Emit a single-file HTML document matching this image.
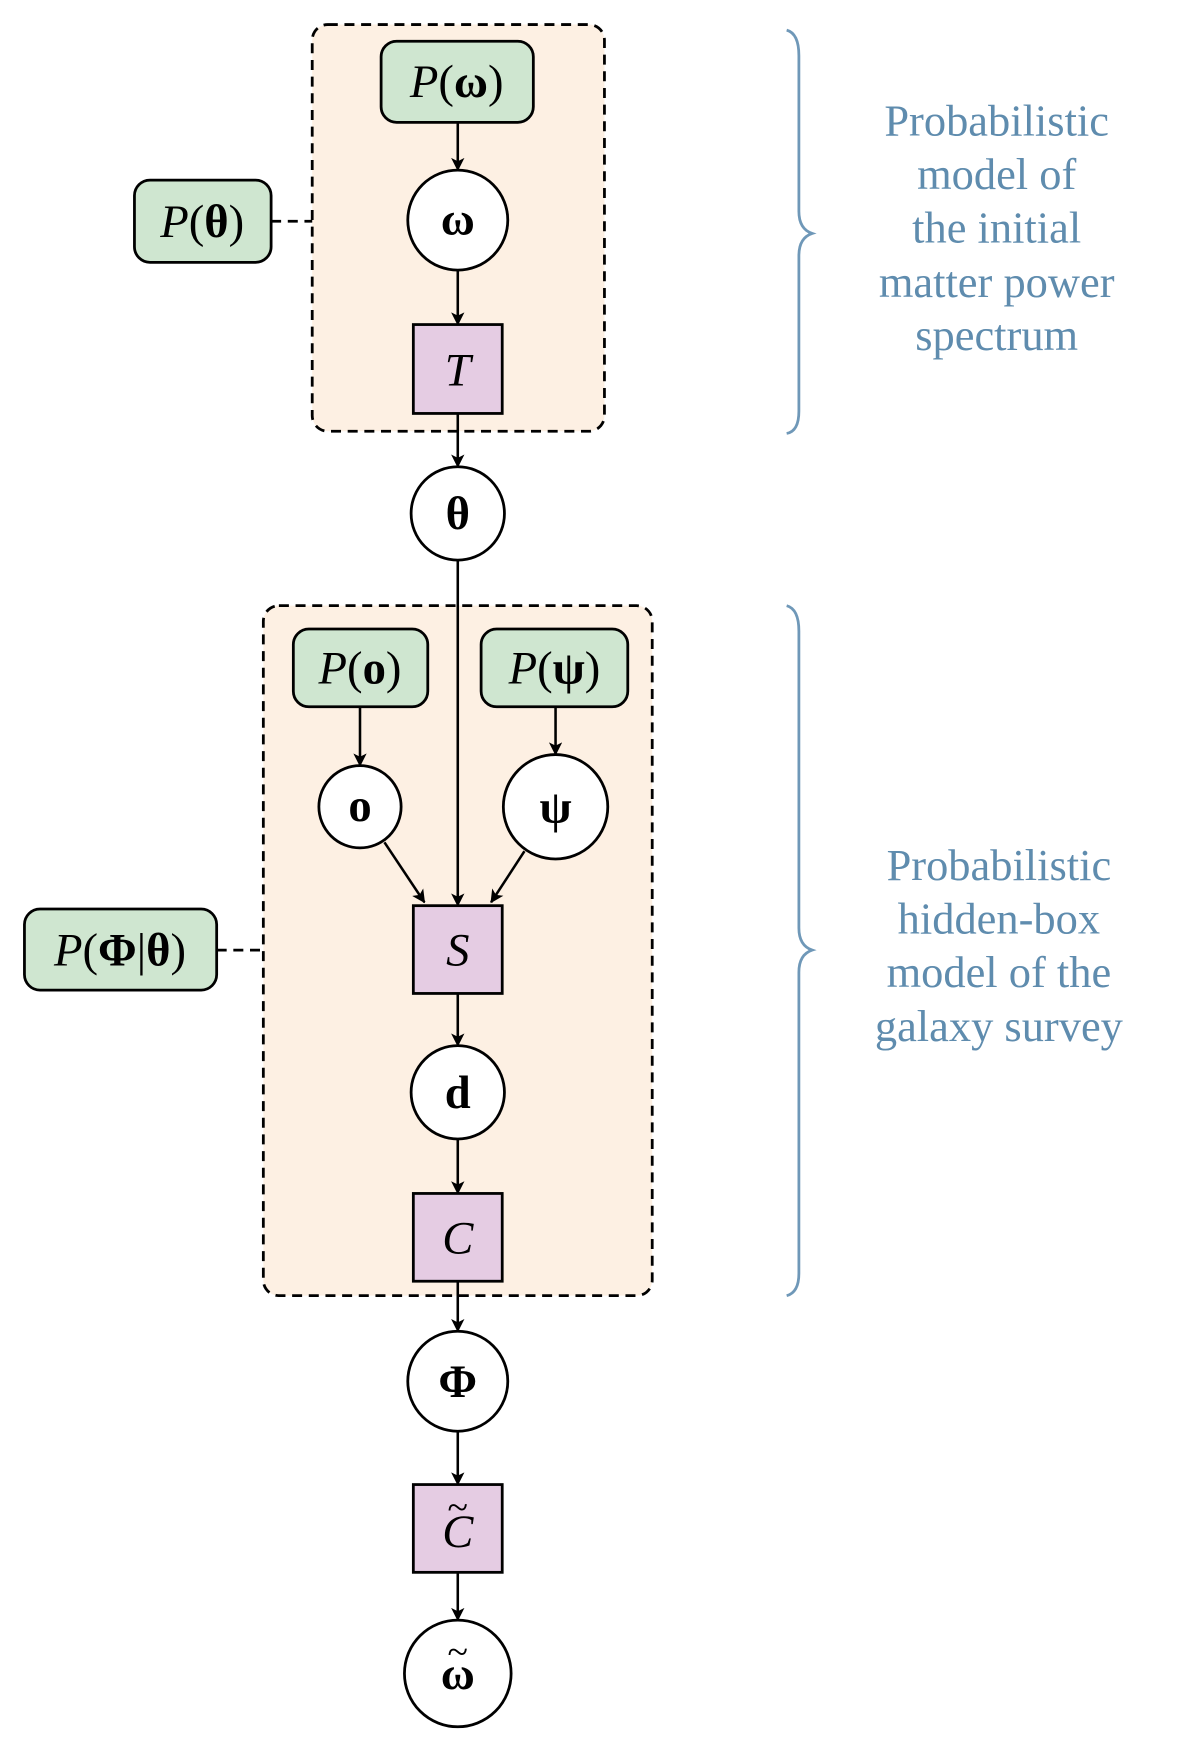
<!DOCTYPE html>
<html><head><meta charset="utf-8"><style>
html,body{margin:0;padding:0;background:#fff;}
svg{display:block}
text{font-family:"Liberation Serif","DejaVu Serif",serif;}
</style></head><body>
<svg width="1200" height="1738" viewBox="0 0 1080 1564" xmlns="http://www.w3.org/2000/svg">
<defs>
<marker id="ar" markerWidth="12" markerHeight="12" refX="11" refY="6" orient="auto" markerUnits="userSpaceOnUse">
<path d="M0,0 L12,6 L0,12 L3,6 Z" fill="#000"/>
</marker>
</defs>
<rect x="281" y="22" width="263" height="366" rx="14" fill="#fdf0e3" stroke="#000" stroke-width="2.5" stroke-dasharray="9,6"/>
<rect x="237" y="545" width="350" height="621" rx="14" fill="#fdf0e3" stroke="#000" stroke-width="2.5" stroke-dasharray="9,6"/>
<line x1="244" y1="199" x2="281" y2="199" stroke="#000" stroke-width="2.5" stroke-dasharray="9,6"/>
<line x1="195" y1="855" x2="237" y2="855" stroke="#000" stroke-width="2.5" stroke-dasharray="9,6"/>
<g stroke="#000" stroke-width="2.3" marker-end="url(#ar)">
<line x1="412" y1="110" x2="412" y2="153"/>
<line x1="412" y1="243" x2="412" y2="292"/>
<line x1="412" y1="372" x2="412" y2="420"/>
<line x1="412" y1="504" x2="412" y2="815"/>
<line x1="324" y1="636" x2="324" y2="689"/>
<line x1="500" y1="636" x2="500" y2="679"/>
<line x1="346" y1="758" x2="382" y2="812"/>
<line x1="472" y1="766" x2="442" y2="812"/>
<line x1="412" y1="894" x2="412" y2="941"/>
<line x1="412" y1="1025" x2="412" y2="1074"/>
<line x1="412" y1="1153" x2="412" y2="1198"/>
<line x1="412" y1="1288" x2="412" y2="1336"/>
<line x1="412" y1="1415" x2="412" y2="1458"/>
</g>
<g fill="#cfe6d0" stroke="#000" stroke-width="2.5">
<rect x="343" y="37" width="137" height="73" rx="14"/>
<rect x="121" y="162" width="123" height="74" rx="14"/>
<rect x="264" y="566" width="121" height="70" rx="14"/>
<rect x="433" y="566" width="132" height="70" rx="14"/>
<rect x="22" y="818" width="173" height="73" rx="14"/>
</g>
<g fill="#fff" stroke="#000" stroke-width="2.5">
<circle cx="412" cy="198" r="45"/>
<circle cx="412" cy="462" r="42"/>
<circle cx="324" cy="726" r="37"/>
<circle cx="500" cy="726" r="47"/>
<circle cx="412" cy="983" r="42"/>
<circle cx="412" cy="1243" r="45"/>
<circle cx="412" cy="1506" r="48"/>
</g>
<g fill="#e5cce3" stroke="#000" stroke-width="2.5">
<rect x="372" y="292" width="80" height="80"/>
<rect x="372" y="815" width="80" height="79"/>
<rect x="372" y="1074" width="80" height="79"/>
<rect x="372" y="1336" width="80" height="79"/>
</g>
<g font-size="42" text-anchor="middle" fill="#000">
<text x="411" y="87"><tspan font-style="italic">P</tspan>(<tspan font-weight="bold">ω</tspan>)</text>
<text x="182" y="213"><tspan font-style="italic">P</tspan>(<tspan font-weight="bold">θ</tspan>)</text>
<text x="324" y="615"><tspan font-style="italic">P</tspan>(<tspan font-weight="bold">o</tspan>)</text>
<text x="499" y="615"><tspan font-style="italic">P</tspan>(<tspan font-weight="bold">ψ</tspan>)</text>
<text x="108" y="869"><tspan font-style="italic">P</tspan>(<tspan font-weight="bold">Φ</tspan>|<tspan font-weight="bold">θ</tspan>)</text>
<text x="412" y="211" font-weight="bold">ω</text>
<text x="412" y="476" font-weight="bold">θ</text>
<text x="324" y="739" font-weight="bold">o</text>
<text x="500" y="740" font-weight="bold">ψ</text>
<text x="412" y="997" font-weight="bold">d</text>
<text x="412" y="1257" font-weight="bold">Φ</text>
<text x="412" y="1520" font-weight="bold">ω</text>
<text x="412" y="1498" font-size="34">~</text>
<text x="412" y="347" font-style="italic">T</text>
<text x="412" y="869" font-style="italic">S</text>
<text x="412" y="1128" font-style="italic">C</text>
<text x="412" y="1392" font-style="italic">C</text>
<text x="412" y="1368" font-size="34">~</text>
</g>
<g fill="none" stroke="#6f98b8" stroke-width="2.5">
<path d="M708,27 Q719,30 719,50 L719,190 Q719,206 731,210 Q719,214 719,230 L719,370 Q719,388 708,390"/>
<path d="M708,545 Q719,548 719,568 L719,835 Q719,851 731,855 Q719,859 719,875 L719,1146 Q719,1163 708,1166"/>
</g>
<g font-size="40" text-anchor="middle" fill="#5f8cae">
<text x="897" y="122">Probabilistic</text>
<text x="897" y="170">model of</text>
<text x="897" y="218">the initial</text>
<text x="897" y="267">matter power</text>
<text x="897" y="315">spectrum</text>
<text x="899" y="792">Probabilistic</text>
<text x="899" y="840">hidden-box</text>
<text x="899" y="888">model of the</text>
<text x="899" y="937">galaxy survey</text>
</g>
</svg>
</body></html>
